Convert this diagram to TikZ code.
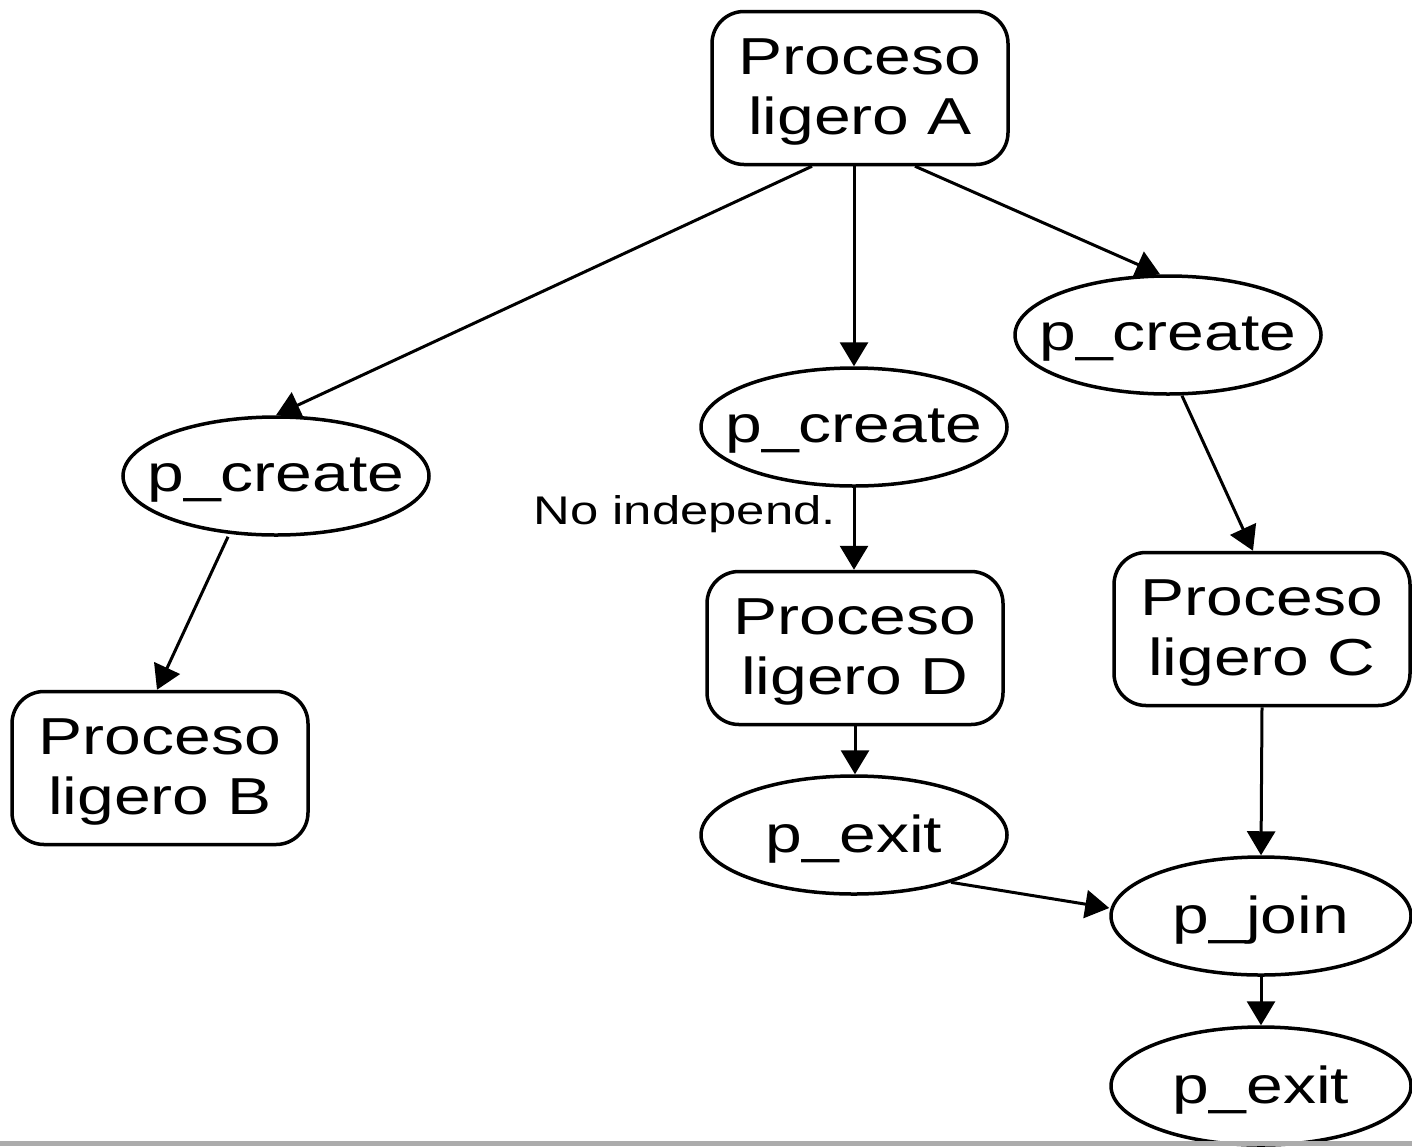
\documentclass[tikz,border=0pt]{standalone}
\usepackage{fontspec}
\setmainfont{Liberation Sans}
\usetikzlibrary{shapes.geometric,arrows.meta}
% text is set slightly wide throughout
\newcommand{\widetxt}[1]{\scalebox{1.27}[1]{#1}}
% lower the ink a little while keeping the box size
\newcommand{\lowered}[1]{\raisebox{-4pt}[\height][\depth]{#1}}
\newcommand{\twolines}[2]{\lowered{\widetxt{\begin{tabular}{@{}c@{}}#1\\#2\end{tabular}}}}
\newcommand{\ovaltxt}[1]{\makebox[0pt]{\lowered{\widetxt{#1}}}}
\begin{document}
\begin{tikzpicture}[x=1pt,y=-1pt,
  box/.style={draw, line width=3.5pt, rounded corners=32pt, minimum width=296pt,
    minimum height=153pt, inner sep=0pt, font=\fontsize{52}{60}\selectfont},
  oval/.style={draw, ellipse, line width=3.5pt, minimum width=306pt,
    minimum height=118pt, inner sep=0pt, font=\fontsize{52}{60}\selectfont},
  link/.style={line width=3pt, -{Triangle[width=28pt,length=24pt]}},
  note/.style={font=\fontsize{40}{44}\selectfont, inner sep=0pt},
]
\fill[white] (0,0) rectangle (1412,1146);
\useasboundingbox (0,0) rectangle (1412,1146);

% threads
\node[box] (A) at (860,88)  {\twolines{Proceso}{ligero A}};
\node[box] (B) at (160,768) {\twolines{Proceso}{ligero B}};
\node[box] (D) at (855,648) {\twolines{Proceso}{ligero D}};
\node[box] (C) at (1262,629) {\twolines{Proceso}{ligero C}};

% calls
\node[oval] (pcL) at (276,476)  {\ovaltxt{p\_create}};
\node[oval] (pcM) at (854,427)  {\ovaltxt{p\_create}};
\node[oval] (pcR) at (1168,335) {\ovaltxt{p\_create}};
\node[oval] (pexM) at (854,835) {\ovaltxt{p\_exit}};
\node[oval, minimum width=300pt] (pjoin) at (1261,916) {\ovaltxt{p\_join}};
\node[oval, minimum width=300pt] (pexR) at (1261,1086) {\ovaltxt{p\_exit}};

\node[note, anchor=base east] (nolbl) at (836,524) {\widetxt{No independ.}};

% connectors
\draw[link] ([xshift=-48pt]A.south) -- (pcL.north);
\draw[link] (A.south -| pcM.north) -- (pcM.north);
\draw[link] ([xshift=55pt]A.south) -- ([xshift=-8pt]pcR.north);
\draw[link] ([xshift=-48pt]pcL.south) -- ([xshift=-3pt]B.north);
\draw[link] (pcM.south) -- (pcM.south |- D.north);
\draw[link] ([xshift=14pt]pcR.south) -- ([xshift=-9pt]C.north);
\draw[link] (D.south) -- (D.south |- pexM.north);
\draw[link] (C.south) -- (pjoin.north);
\draw[link] (pexM.-26) -- ([yshift=8pt]pjoin.west);
\draw[link] (pjoin.south) -- (pexR.north);

% strip along the lower edge
\fill[gray!65] (0,1141) rectangle (1412,1146);
\end{tikzpicture}
\end{document}
